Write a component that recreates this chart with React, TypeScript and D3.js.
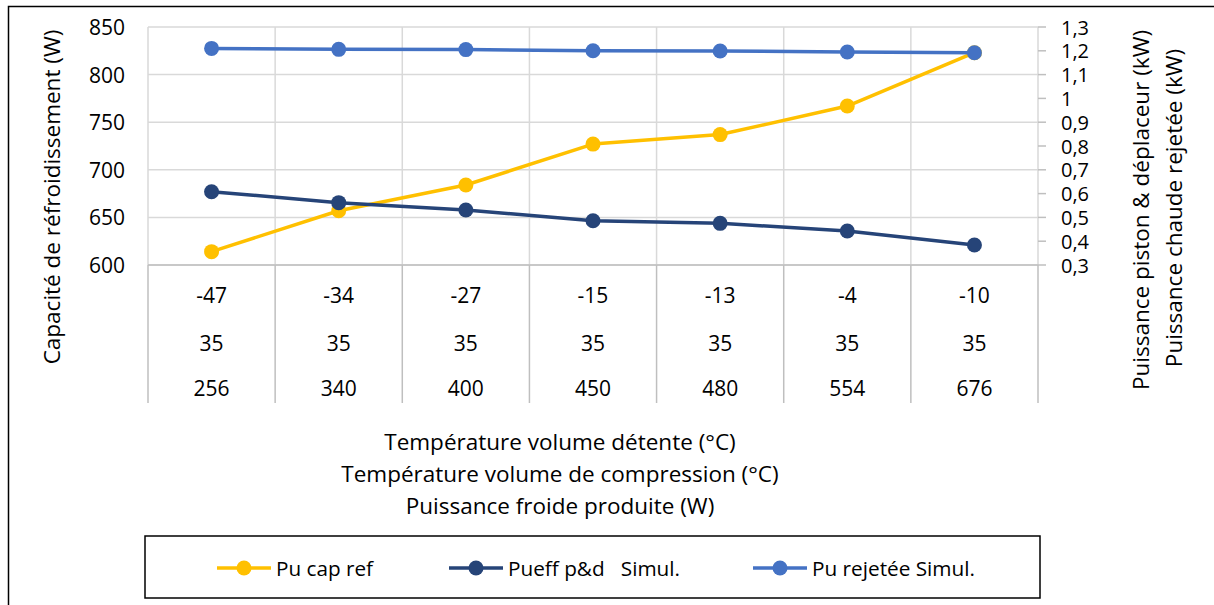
import React from 'react';
import * as d3 from 'd3';

// categories (multi-level x axis)
const tempDetente = ['-47', '-34', '-27', '-15', '-13', '-4', '-10'];
const tempCompression = ['35', '35', '35', '35', '35', '35', '35'];
const puissanceFroide = ['256', '340', '400', '450', '480', '554', '676'];

// series
const puCapRef = [614, 657, 684, 727, 737, 767, 823]; // W, left axis
const pueffPD = [0.608, 0.562, 0.531, 0.486, 0.475, 0.443, 0.384]; // kW, right axis
const puRejetee = [1.21, 1.206, 1.205, 1.2, 1.199, 1.195, 1.192]; // kW, right axis

const leftTicks = [600, 650, 700, 750, 800, 850];
const rightTicks = [0.3, 0.4, 0.5, 0.6, 0.7, 0.8, 0.9, 1, 1.1, 1.2, 1.3];

const W = 1214;
const H = 605;
const FONT = '"Open Sans", Lato, sans-serif';
const FS = 21;
const TITLE_FS = 22.5;
const GRID = '#d9d9d9';
const TABLE = '#bfbfbf';

const plot = { left: 148, right: 1038, top: 27, bottom: 265, tableBottom: 403 };

const series = [
    { name: 'Pu cap ref', color: '#FFC000', values: puCapRef, axis: 'left' },
    { name: 'Pueff p&d   Simul.', color: '#264478', values: pueffPD, axis: 'right' },
    { name: 'Pu rejetée Simul.', color: '#4472C4', values: puRejetee, axis: 'right' },
];

const legendX = [217, 449, 753];
const legendWidths = [97, 172, 163];

export default function App() {
    const idx = tempDetente.map((_, i) => i);
    const x = d3.scaleBand<number>().domain(idx).range([plot.left, plot.right]).padding(0);
    const cx = (i: number) => (x(i) ?? 0) + x.bandwidth() / 2;
    const yL = d3.scaleLinear().domain([600, 850]).range([plot.bottom, plot.top]);
    const yR = d3.scaleLinear().domain([0.3, 1.3]).range([plot.bottom, plot.top]);
    const fmtR = (v: number) => String(+v.toFixed(1)).replace('.', ',');

    const boundaries = [...idx.map(i => x(i) ?? 0), plot.right];
    const rows = [
        { labels: tempDetente, y: 295 },
        { labels: tempCompression, y: 343 },
        { labels: puissanceFroide, y: 388 },
    ];

    return (
        <svg width={W} height={H} style={{ position: 'absolute', left: 0, top: 0, background: '#fff' }}
            fontFamily={FONT}>
            <rect x={8.5} y={6.5} width={W + 20} height={H + 20} fill="#fff" stroke="#000" strokeWidth={1.5} />

            {/* horizontal gridlines */}
            {leftTicks.map(t => (
                <line key={t} x1={plot.left} x2={plot.right} y1={yL(t)} y2={yL(t)} stroke={GRID} strokeWidth={1.5} />
            ))}
            {/* vertical category lines down through the table */}
            {boundaries.map((b, i) => (
                <line key={i} x1={b} x2={b} y1={plot.top} y2={plot.bottom} stroke={GRID} strokeWidth={1.5} />
            ))}
            {boundaries.map((b, i) => (
                <line key={'t' + i} x1={b} x2={b} y1={plot.bottom} y2={plot.tableBottom} stroke={TABLE} strokeWidth={1.5} />
            ))}
            <line x1={plot.left} x2={plot.right} y1={plot.bottom} y2={plot.bottom} stroke={TABLE} strokeWidth={1.5} />

            {/* right axis tick marks */}
            {rightTicks.map(t => (
                <line key={t} x1={plot.right} x2={plot.right + 8} y1={yR(t)} y2={yR(t)} stroke={TABLE} strokeWidth={1.5} />
            ))}

            {/* left tick labels */}
            {leftTicks.map(t => (
                <text key={t} x={125} y={yL(t)} textAnchor="end" dominantBaseline="central" fontSize={FS} fill="#000">{t}</text>
            ))}
            {/* right tick labels */}
            {rightTicks.map(t => (
                <text key={t} x={1061} y={yR(t)} textAnchor="start" dominantBaseline="central" fontSize={20} fill="#000">{fmtR(t)}</text>
            ))}

            {/* category table */}
            {rows.map((r, ri) => r.labels.map((l, i) => (
                <text key={ri + '-' + i} x={cx(i)} y={r.y} textAnchor="middle" dominantBaseline="central" fontSize={FS} fill="#000">{l}</text>
            )))}

            {/* series */}
            {series.map(s => {
                const y = s.axis === 'left' ? yL : yR;
                const line = d3.line<number>().x((_, i) => cx(i)).y(d => y(d));
                return (
                    <g key={s.name}>
                        <path d={line(s.values) ?? ''} fill="none" stroke={s.color} strokeWidth={3.5} strokeLinejoin="round" />
                        {s.values.map((v, i) => (
                            <circle key={i} cx={cx(i)} cy={y(v)} r={7.5} fill={s.color} />
                        ))}
                    </g>
                );
            })}

            {/* axis titles */}
            <text transform="translate(51,197) rotate(-90)" textAnchor="middle" dominantBaseline="central" fontSize={TITLE_FS} fill="#000">
                Capacité de réfroidissement (W)
            </text>
            <text transform="translate(1140,210) rotate(-90)" textAnchor="middle" dominantBaseline="central" fontSize={TITLE_FS} fill="#000">
                Puissance piston &amp; déplaceur (kW)
            </text>
            <text transform="translate(1173,208) rotate(-90)" textAnchor="middle" dominantBaseline="central" fontSize={TITLE_FS} fill="#000">
                Puissance chaude rejetée (kW)
            </text>
            {['Température volume détente (°C)', 'Température volume de compression (°C)', 'Puissance froide produite (W)'].map((t, i) => (
                <text key={t} x={560} y={441 + i * 32} textAnchor="middle" dominantBaseline="central" fontSize={TITLE_FS} fill="#000">{t}</text>
            ))}

            {/* legend */}
            <rect x={145} y={536} width={895} height={62} fill="#fff" stroke="#000" strokeWidth={1.5} />
            {series.map((s, i) => (
                <g key={s.name} transform={`translate(${legendX[i]},568)`}>
                    <line x1={0} x2={54} y1={0} y2={0} stroke={s.color} strokeWidth={3.5} />
                    <circle cx={27} cy={0} r={7.5} fill={s.color} />
                    <text x={59} y={0} dominantBaseline="central" fontSize={20} fill="#000"
                        textLength={legendWidths[i]} lengthAdjust="spacingAndGlyphs" style={{ whiteSpace: 'pre' }}>{s.name}</text>
                </g>
            ))}
        </svg>
    );
}
